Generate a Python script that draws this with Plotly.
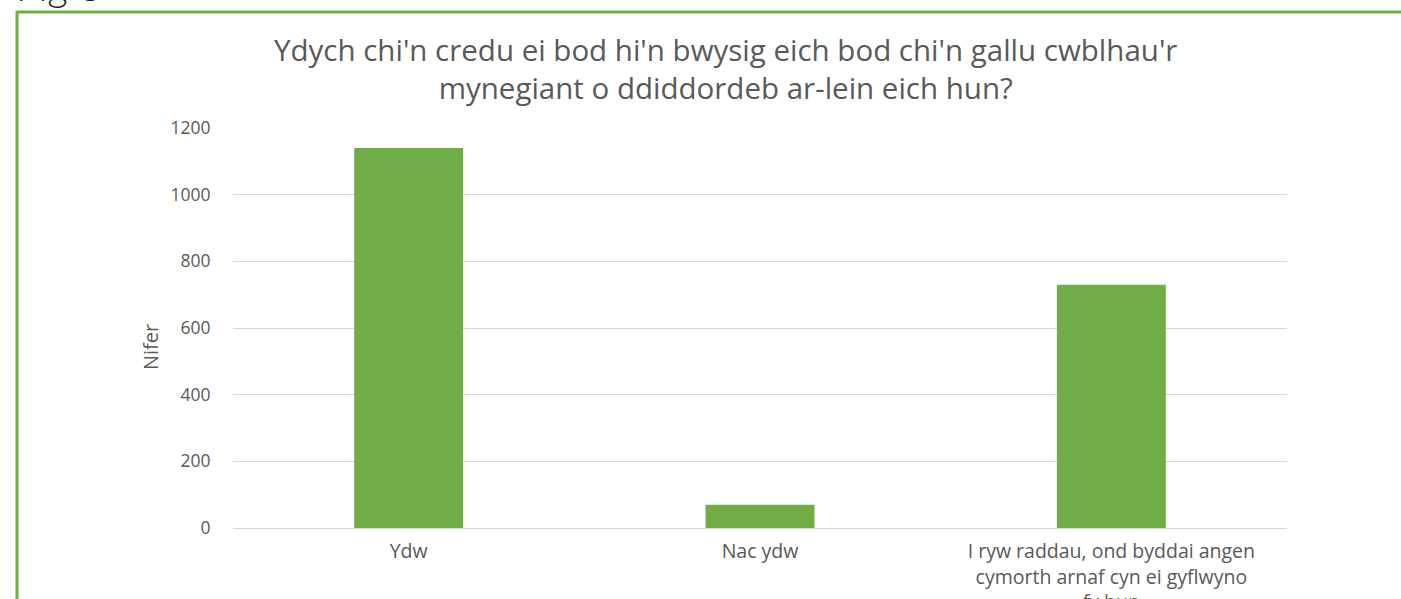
import plotly.graph_objects as go

# Survey answers (Welsh) and counts
categories = [
    "Ydw",
    "Nac ydw",
    "I ryw raddau, ond byddai angen<br>cymorth arnaf cyn ei gyflwyno<br>fy hun",
]
counts = [1140, 70, 730]
y_ticks = [0, 200, 400, 600, 800, 1000, 1200]

title_text = ("Ydych chi'n credu ei bod hi'n bwysig eich bod chi'n gallu cwblhau'r<br>"
              "mynegiant o ddiddordeb ar-lein eich hun?")

W, H = 1401, 599
L, R, T, B = 233, 114, 128, 71
grey = "#595959"
green = "#70AD47"
font = "Open Sans"


def px_x(px):
    return (px - L) / (W - L - R)


def px_y(py):
    return (H - B - py) / (H - T - B)


fig = go.Figure(go.Bar(
    x=categories,
    y=counts,
    marker_color=green,
    marker_line_width=0,
    width=0.31,
    hoverinfo="x+y",
))

fig.update_layout(
    width=W, height=H,
    margin=dict(l=L, r=R, t=T, b=B, pad=0, autoexpand=False),
    paper_bgcolor="white",
    plot_bgcolor="white",
    showlegend=False,
    font=dict(family=font, color=grey, size=17),
)

fig.update_xaxes(
    showgrid=False, showline=False, zeroline=False, automargin=False,
    ticks="outside", ticklen=6, tickcolor="rgba(0,0,0,0)",
    tickfont=dict(size=19.5, color=grey),
)
fig.update_yaxes(
    range=[0, 1200], tickvals=y_ticks, automargin=False,
    showgrid=True, gridcolor="#D9D9D9", gridwidth=1,
    zeroline=True, zerolinecolor="#D9D9D9", zerolinewidth=1,
    showline=False,
    ticks="outside", ticklen=18, tickcolor="rgba(0,0,0,0)",
    tickfont=dict(size=17.5, color=grey),
)

# chart title
fig.add_annotation(
    text=title_text, xref="paper", yref="paper",
    x=px_x(725), y=px_y(27), xanchor="center", yanchor="top",
    showarrow=False, align="center",
    font=dict(family=font, size=29.5, color=grey),
)

# y axis title
fig.add_annotation(
    text="Nifer", xref="paper", yref="paper",
    x=px_x(150), y=px_y(347), xanchor="center", yanchor="middle",
    textangle=-90, showarrow=False,
    font=dict(family=font, size=20, color=grey),
)

# "Fig 8" heading cut off at the top of the page
fig.add_annotation(
    text="Fig 8", xref="paper", yref="paper",
    x=px_x(14), y=px_y(12), xanchor="left", yanchor="bottom",
    showarrow=False,
    font=dict(family="Lato", size=40, color="#222222", weight=300),
)

# green frame around the chart
fig.add_shape(
    type="rect", xref="paper", yref="paper",
    x0=px_x(17), x1=px_x(1420), y0=px_y(640), y1=px_y(12),
    line=dict(color="#6DB33F", width=3), fillcolor="rgba(0,0,0,0)",
    layer="below",
)

fig.write_html("out.html", config={"displayModeBar": False},
               post_script="document.body.style.margin='0';")
